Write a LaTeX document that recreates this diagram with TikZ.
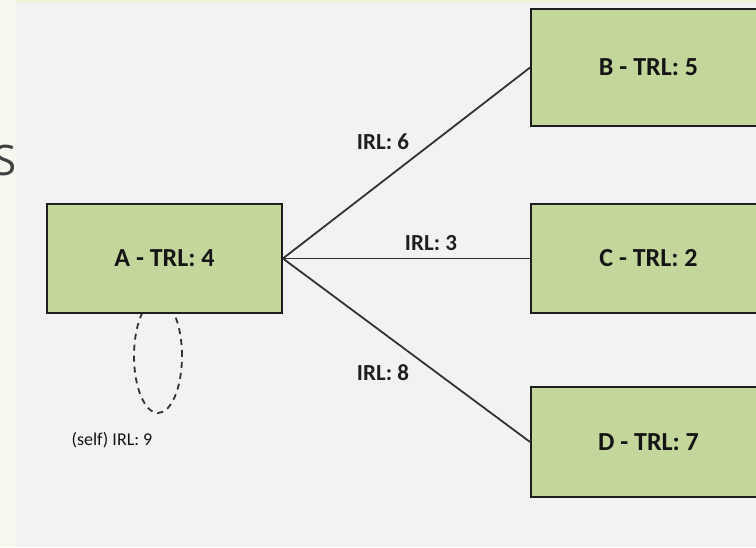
\documentclass[tikz,border=0pt]{standalone}
\usepackage{fontspec}
\setmainfont{Carlito}
\newfontfamily\titlefont{Open Sans}
\usetikzlibrary{shapes.geometric}
\definecolor{panelgray}{HTML}{F2F2F2}
\definecolor{stripgreen}{HTML}{F6F8EF}
\definecolor{topgreen}{HTML}{EEF2DD}
\definecolor{boxgreen}{HTML}{C3D69B}
\definecolor{edgedark}{HTML}{1E1E1E}
\definecolor{linegray}{HTML}{333333}
\definecolor{titlegray}{HTML}{404040}
\tikzset{
  trlbox/.style={draw=edgedark, line width=1.8pt, fill=boxgreen, rectangle,
    minimum width=235pt, minimum height=109pt, inner sep=0pt,
    font=\fontsize{26}{30}\selectfont\bfseries, text=black!92},
  irllabel/.style={inner sep=0pt, font=\fontsize{23}{28}\selectfont\bfseries, text=black!88},
  selflabel/.style={inner sep=0pt, font=\fontsize{18}{22}\selectfont, text=black!92},
  link/.style={draw=linegray, line width=1.8pt},
  selfloop/.style={draw=linegray, line width=1.8pt, dash pattern=on 6pt off 5pt,
    ellipse, minimum width=48pt, minimum height=114pt, inner sep=0pt}
}
\begin{document}
\begin{tikzpicture}[x=1pt, y=-1pt]
\useasboundingbox (0,0) rectangle (756,547);
\clip (0,0) rectangle (756,547);
\fill[topgreen] (0,0) rectangle (756,3);
\fill[stripgreen] (0,0) rectangle (16,547);
\node[anchor=east, inner sep=0pt, text=titlegray, font=\titlefont\fontsize{42}{48}\selectfont] (title) at (17,160) {S};
\fill[panelgray] (16,3) rectangle (756,547);
% self loop (behind box A)
\node[selfloop] (loop) at (158,356) {};
% boxes
\node[trlbox] (A) at (164.5,258.5) {A - TRL: 4};
\node[trlbox, minimum height=117pt] (B) at (648.5,67.5) {B - TRL: 5};
\node[trlbox] (C) at (648.5,258.5) {C - TRL: 2};
\node[trlbox, minimum height=110pt] (D) at (648.5,442) {D - TRL: 7};
% links
\draw[link] (A.east) -- (B.west);
\draw[link] (A.east) -- (C.west);
\draw[link] (A.east) -- (D.west);
% labels
\node[irllabel] (l6) at (383,142) {IRL: 6};
\node[irllabel] (l3) at (431,243) {IRL: 3};
\node[irllabel] (l8) at (383,373) {IRL: 8};
\node[selflabel] (l9) at (112,440) {(self) IRL: 9};
\end{tikzpicture}
\end{document}
